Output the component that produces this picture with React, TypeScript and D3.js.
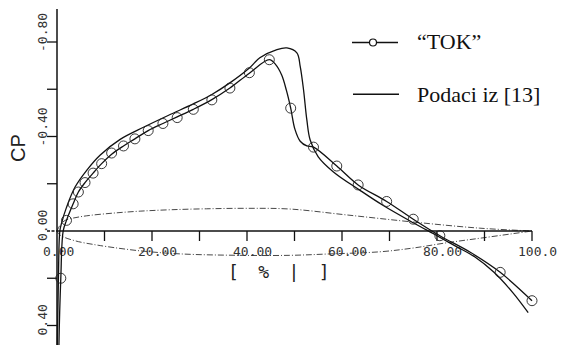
import React from "react";
import * as d3 from "d3";

const W = 561;
const H = 345;

// x in % chord, value = Cp
const tokMarkers: [number, number][] = [
  [0.8, 0.2], [2.0, -0.045], [3.4, -0.115], [4.5, -0.165], [5.9, -0.205],
  [7.6, -0.245], [9.4, -0.285], [11.5, -0.33], [14.0, -0.36], [16.4, -0.39],
  [19.2, -0.425], [22.3, -0.455], [25.3, -0.48], [28.7, -0.515], [32.6, -0.555],
  [36.4, -0.605], [40.5, -0.67], [44.7, -0.725], [49.2, -0.52], [54.0, -0.355],
  [58.9, -0.275], [63.4, -0.195], [69.4, -0.125], [75.0, -0.05], [80.6, 0.02],
  [93.3, 0.175], [100, 0.295],
];

const tokLine: [number, number][] = [
  [0.2, 1.0], [0.4, 0.49], [0.8, 0.2], [1.3, 0.0], [2.0, -0.045], [3.4, -0.115],
  [4.5, -0.165], [5.9, -0.205], [7.6, -0.245], [9.4, -0.285], [11.5, -0.325],
  [14.0, -0.36], [16.4, -0.39], [19.2, -0.425], [22.3, -0.455], [25.3, -0.483],
  [28.7, -0.515], [32.6, -0.556], [36.4, -0.605], [40.5, -0.668], [44.7, -0.725],
  [46.0, -0.705], [47.3, -0.66], [48.3, -0.595], [49.2, -0.52], [50.1, -0.43],
  [51.2, -0.38], [52.6, -0.36], [54.0, -0.355], [58.9, -0.275], [63.4, -0.195],
  [69.4, -0.125], [75.0, -0.05], [80.6, 0.02], [87.0, 0.09], [93.3, 0.175],
  [100, 0.295],
];

const refLine: [number, number][] = [
  [0.0, 1.0], [0.06, 0.49], [0.3, 0.2], [0.6, 0.0], [1.0, -0.036], [2.0, -0.1],
  [3.8, -0.186], [6.25, -0.257], [9.05, -0.321], [13.3, -0.388], [18.2, -0.439],
  [23.5, -0.49], [28.7, -0.538], [32.6, -0.578], [36.4, -0.627], [40.5, -0.69],
  [42.7, -0.733], [46.3, -0.768], [48.4, -0.775], [50.5, -0.754], [51.2, -0.697],
  [51.9, -0.598], [52.6, -0.47], [53.3, -0.385], [55.0, -0.314], [58.2, -0.25],
  [63.8, -0.172], [68.6, -0.109], [75, -0.035], [80, 0.02], [84, 0.065],
  [88, 0.11], [92, 0.175], [96, 0.262], [99.2, 0.346],
];

const airfoilUpper: [number, number][] = [
  [0, 0], [0.5, -0.02], [1.7, -0.045], [4, -0.057], [6.9, -0.066], [12, -0.076],
  [17.5, -0.084], [24, -0.09], [31.5, -0.094], [40, -0.096], [49, -0.093],
  [61, -0.068], [75, -0.038], [89, -0.012], [100, 0],
];

const airfoilLower: [number, number][] = [
  [0, 0], [0.5, 0.015], [1.7, 0.028], [4.5, 0.045], [8, 0.058], [10.5, 0.066],
  [17.5, 0.084], [26, 0.097], [38.5, 0.103], [49, 0.103], [57.5, 0.097],
  [68, 0.088], [75, 0.072], [82, 0.05], [90, 0.028], [100, 0],
];

const xTicks = [10, 20, 30, 40, 50, 60, 70, 80, 90, 100];
const xLabelVals = [0, 20, 40, 60, 80, 100];
const xLabels = ["0.00", "20.00", "40.00", "60.00", "80.00", "100.0"];
const yTicks = [-0.8, -0.6, -0.4, -0.2, 0, 0.2, 0.4];
const yLabelVals = [-0.8, -0.4, 0, 0.4];
const yLabels = ["-0.80", "-0.40", "0.00", "0.40"];
const legendItems = ["\u201CTOK\u201D", "Podaci iz [13]"];

export default function App() {
  const x = d3.scaleLinear().domain([0, 100]).range([57, 532]);
  const y = d3.scaleLinear().domain([0, -0.8]).range([231, 42]);
  const line = d3
    .line<[number, number]>()
    .x((d) => x(d[0]))
    .y((d) => y(d[1]))
    .curve(d3.curveCatmullRom.alpha(0.5));
  const mono = "'DejaVu Sans Mono', monospace";
  const serif = "'Liberation Serif', 'Times New Roman', serif";

  return (
    <>
      <style>{`body{margin:0;background:#fff}`}</style>
      <svg width={W} height={H} viewBox={`0 0 ${W} ${H}`} style={{ display: "block" }}>
        <rect width={W} height={H} fill="#fff" />
        {/* airfoil */}
        <path d={line(airfoilUpper) || ""} fill="none" stroke="#333" strokeWidth={0.9} strokeDasharray="6 2 1 2" />
        <path d={line(airfoilLower) || ""} fill="none" stroke="#333" strokeWidth={0.9} strokeDasharray="6 2 1 2" />
        {/* axes */}
        <line x1={x(0)} x2={x(0)} y1={9} y2={H} stroke="#111" strokeWidth={1.5} />
        <line x1={x(0)} x2={x(100)} y1={y(0)} y2={y(0)} stroke="#111" strokeWidth={1.4} />
        {xTicks.map((t) => (
          <line key={"xt" + t} x1={x(t)} x2={x(t)} y1={y(0)} y2={y(0) + 10} stroke="#111" strokeWidth={1.3} />
        ))}
        {yTicks.map((t) => (
          <line key={"yt" + t} x1={x(0) - 10} x2={x(0)} y1={y(t)} y2={y(t)} stroke="#111" strokeWidth={1.3}
            strokeDasharray={t === 0 ? "3 1.5" : undefined} />
        ))}
        {xLabelVals.map((v, i) => (
          <text key={"xl" + v} x={x(v) - 14} y={256} fontFamily={mono} fontSize={13} fill="#333">
            {xLabels[i]}
          </text>
        ))}
        {yLabelVals.map((v, i) => (
          <text key={"yl" + v} transform={`translate(47,${y(v) + 10}) rotate(-90)`} fontFamily={mono}
            fontSize={13} fill="#333">
            {yLabels[i]}
          </text>
        ))}
        <text x={281} y={278} textAnchor="middle" fontFamily={mono} fontSize={18} letterSpacing={4.3} fill="#222">
          [ % | ]
        </text>
        <text transform="translate(25,148) rotate(-90)" textAnchor="middle" fontFamily="'Liberation Sans', Arial, sans-serif"
          fontSize={20} fill="#222">
          CP
        </text>
        {/* data */}
        <path d={line(refLine) || ""} fill="none" stroke="#111" strokeWidth={1.3} />
        <path d={line(tokLine) || ""} fill="none" stroke="#111" strokeWidth={1.3} />
        {tokMarkers.map((d, i) => (
          <circle key={"m" + i} cx={x(d[0])} cy={y(d[1])} r={5} fill="none" stroke="#222" strokeWidth={0.9} />
        ))}
        {/* legend */}
        <line x1={352} x2={398} y1={42.5} y2={42.5} stroke="#111" strokeWidth={1.4} />
        <circle cx={373} cy={42.5} r={3.5} fill="#fff" stroke="#111" strokeWidth={1.2} />
        <text x={417} y={48.5} fontFamily={serif} fontSize={22} fill="#111">{legendItems[0]}</text>
        <line x1={353} x2={399} y1={94.3} y2={94.3} stroke="#111" strokeWidth={1.4} />
        <text x={417} y={101.7} fontFamily={serif} fontSize={22} fill="#111">{legendItems[1]}</text>
      </svg>
    </>
  );
}
